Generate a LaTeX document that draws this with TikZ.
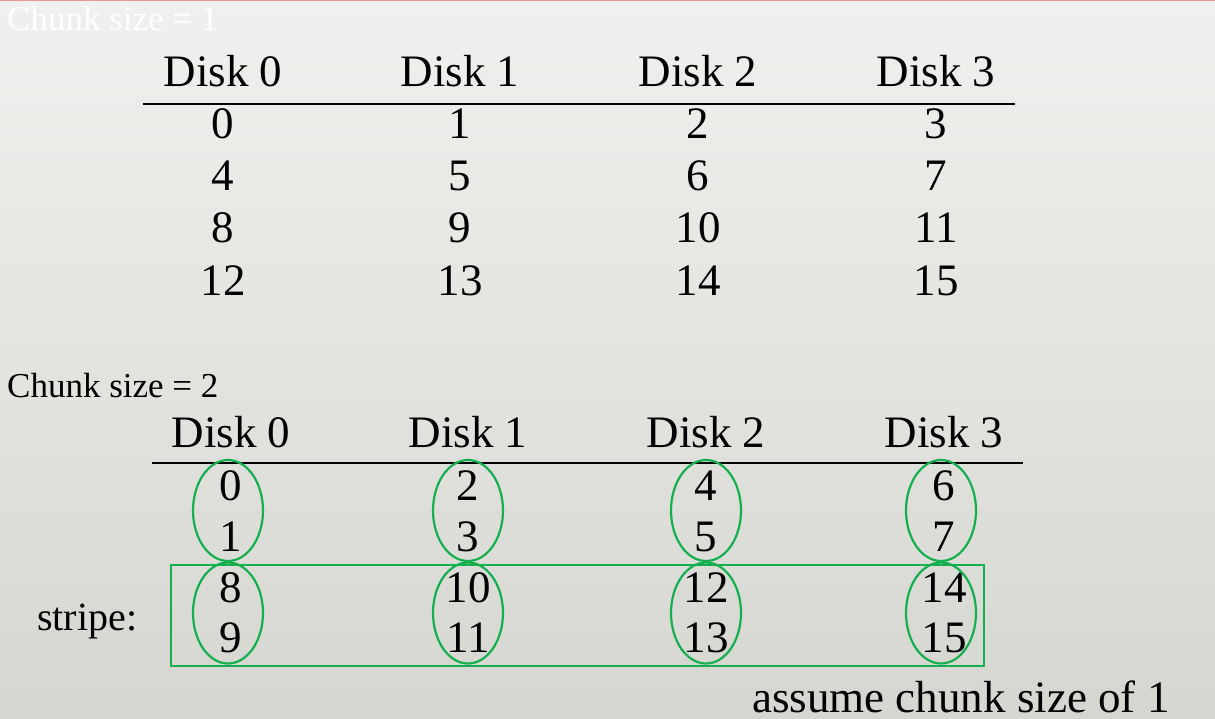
\documentclass[tikz,border=0pt]{standalone}
\usepackage{fontspec}
\setmainfont{Liberation Serif}
\usetikzlibrary{shapes.geometric}
\definecolor{bgtop}{RGB}{240,240,238}
\definecolor{bgbot}{RGB}{214,214,209}
\definecolor{grn}{RGB}{20,176,80}
\definecolor{topred}{RGB}{240,150,150}
\begin{document}
\begin{tikzpicture}[x=1pt,y=-1pt,
  big/.style={anchor=base,inner sep=0pt,font=\fontsize{45}{50}\selectfont},
  small/.style={anchor=base west,inner sep=0pt,font=\fontsize{35}{40}\selectfont},
  oval/.style={draw=grn,line width=2.2pt,ellipse,minimum width=70,minimum height=101,inner sep=0pt},
  stripebox/.style={draw=grn,line width=2.2pt,rectangle,minimum width=813,minimum height=101,inner sep=0pt},
  rule/.style={line width=2pt,black}]
\useasboundingbox (0,0) rectangle (1215,719);
\shade[top color=bgtop,bottom color=bgbot] (0,0) rectangle (1215,719);
\draw[topred,line width=1.5pt] (0,0.75) -- (1215,0.75);
% top table
\node[small,text=white] (t1) at (7,31) {Chunk size = 1};
\foreach \c/\x in {0/223,1/460,2/698,3/936}{
  \node[big] (h1\c) at (\x,87) {Disk \c};
}
\coordinate (l1a) at (143,104);
\coordinate (l1b) at (1015,104);
\draw[rule] (l1a) -- (l1b);
\foreach \r/\y in {0/139,1/191,2/243,3/295}{
  \foreach \c/\x in {0/223,1/460,2/698,3/936}{
    \pgfmathtruncatemacro{\v}{4*\r+\c}
    \node[big] (a\r\c) at (\x,\y) {\v};
  }
}
% bottom table
\node[small] (t2) at (7,397) {Chunk size = 2};
\foreach \c/\x in {0/231,1/468,2/706,3/944}{
  \node[big] (h2\c) at (\x,447) {Disk \c};
}
\coordinate (l2a) at (152,463);
\coordinate (l2b) at (1023,463);
\draw[rule] (l2a) -- (l2b);
\foreach \r/\y in {0/500,1/551,2/602,3/652}{
  \foreach \c/\x in {0/231,1/468,2/706,3/944}{
    \pgfmathtruncatemacro{\v}{2*\c+mod(\r,2)+8*int(\r/2)}
    \node[big] (b\r\c) at (\x,\y) {\v};
  }
}
\foreach \c/\x in {0/228,1/468,2/706,3/941}{
  \node[oval] (e0\c) at (\x,510.5) {};
  \node[oval] (e1\c) at (\x,613) {};
}
\node[stripebox] (sb) at (577.5,615.5) {};
\node[anchor=base west,inner sep=0pt,font=\fontsize{40}{46}\selectfont] (st) at (37,630) {stripe:};
\node[big,anchor=base west] (as) at (752,712) {assume chunk size of 1};
\end{tikzpicture}
\end{document}
